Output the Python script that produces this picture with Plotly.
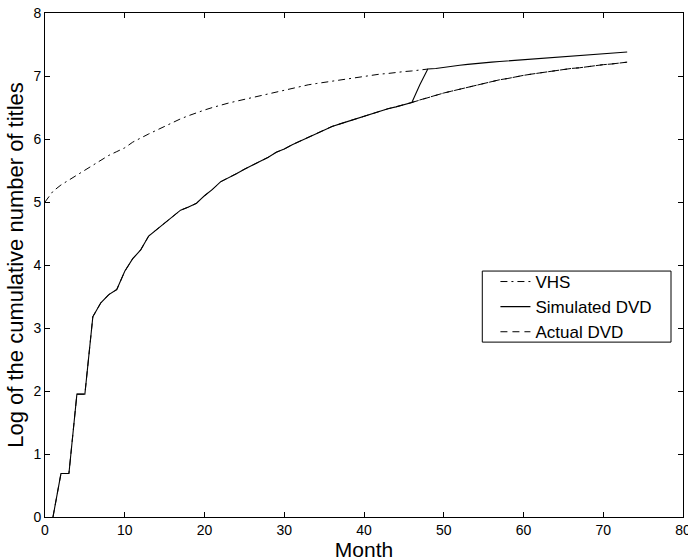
import plotly.graph_objects as go

# ---- data ----
vhs_months = list(range(0, 49))
vhs_values = [5.00, 5.17, 5.27, 5.35, 5.42, 5.50, 5.58, 5.66, 5.74, 5.80,
              5.86, 5.95, 6.02, 6.08, 6.14, 6.20, 6.27, 6.32, 6.37, 6.42,
              6.46, 6.50, 6.54, 6.57, 6.60, 6.63, 6.66, 6.69, 6.72, 6.75,
              6.77, 6.80, 6.83, 6.86, 6.88, 6.90, 6.92, 6.94, 6.96, 6.98,
              7.00, 7.01, 7.03, 7.04, 7.06, 7.07, 7.08, 7.10, 7.11]

dvd_common = [0.00, 0.69, 0.69, 1.95, 1.95, 3.18, 3.40, 3.53, 3.61, 3.90,
              4.10, 4.24, 4.46, 4.56, 4.66, 4.76, 4.87, 4.92, 4.98, 5.10,
              5.20, 5.32, 5.38, 5.45, 5.52, 5.58, 5.65, 5.71, 5.79, 5.84,
              5.91, 5.97, 6.03, 6.09, 6.14, 6.20, 6.24, 6.28, 6.33, 6.37,
              6.41, 6.45, 6.48, 6.51, 6.54, 6.58]   # months 1..46

sim_tail = [6.86, 7.11, 7.12, 7.14, 7.155, 7.17, 7.185, 7.20, 7.21, 7.22,
            7.23, 7.24, 7.25, 7.26, 7.27, 7.28, 7.29, 7.30, 7.31, 7.32,
            7.33, 7.34, 7.345, 7.35, 7.36, 7.37, 7.38]   # months 47..73

act_tail = [6.62, 6.66, 6.70, 6.73, 6.76, 6.79, 6.83, 6.86, 6.88, 6.91,
            6.94, 6.96, 6.99, 7.01, 7.03, 7.05, 7.07, 7.08, 7.10, 7.12,
            7.13, 7.15, 7.16, 7.18, 7.19, 7.21, 7.22]   # months 47..73

dvd_months = list(range(1, 74))
sim_values = dvd_common + sim_tail
act_values = dvd_common + act_tail

x_ticks = [0, 10, 20, 30, 40, 50, 60, 70, 80]
y_ticks = [0, 1, 2, 3, 4, 5, 6, 7, 8]

FONT = "Liberation Sans, Arial, sans-serif"
DASH = "7px,5px"
DASHDOT = "7px,4px,2px,4px"

fig = go.Figure()
# actual DVD, full series (under the simulated line where they coincide)
fig.add_trace(go.Scatter(x=dvd_months, y=act_values, mode="lines",
                         name="Actual DVD", showlegend=False,
                         line=dict(color="black", width=1, dash=DASH)))
fig.add_trace(go.Scatter(x=vhs_months, y=vhs_values, mode="lines", name="VHS",
                         line=dict(color="black", width=1, dash=DASHDOT)))
fig.add_trace(go.Scatter(x=dvd_months, y=sim_values, mode="lines", name="Simulated DVD",
                         line=dict(color="black", width=1.1)))
# visible part of actual DVD, on top, with the legend entry
fig.add_trace(go.Scatter(x=dvd_months[45:], y=act_values[45:], mode="lines",
                         name="Actual DVD",
                         line=dict(color="black", width=1, dash=DASH)))

axis_common = dict(showline=True, linecolor="black", linewidth=1, mirror="ticks",
                   ticks="inside", ticklen=5, tickcolor="black", showgrid=False,
                   zeroline=False, tickfont=dict(family=FONT, size=14, color="black"))

fig.update_xaxes(range=[0, 80], tickvals=x_ticks, ticktext=[str(v) for v in x_ticks],
                 title=dict(text="Month", font=dict(family=FONT, size=21, color="black"),
                            standoff=4),
                 **axis_common)
fig.update_yaxes(range=[0, 8], tickvals=y_ticks, ticktext=[str(v) for v in y_ticks],
                 title=dict(text="Log of the cumulative number of titles",
                            font=dict(family=FONT, size=22, color="black"), standoff=3),
                 **axis_common)

# legend frame
fig.add_shape(type="rect", xref="paper", yref="paper",
              x0=0.6854, x1=0.9812, y0=0.347, y1=0.488,
              line=dict(color="black", width=1), fillcolor="white", layer="below")

# figure slightly larger than the window so the last x label is cut by the window edge
fig.update_layout(
    width=700, height=566,
    margin=dict(l=45, r=17, t=13, b=49, autoexpand=False),
    plot_bgcolor="white", paper_bgcolor="white",
    font=dict(family=FONT, color="black"),
    legend=dict(x=0.706, y=0.502, xanchor="left", yanchor="top",
                bgcolor="rgba(0,0,0,0)", borderwidth=0,
                font=dict(family=FONT, size=17, color="black"),
                tracegroupgap=0, itemwidth=30),
)

fig.write_html("out.html", config={"displayModeBar": False},
               post_script="document.body.style.margin='0';"
                           "document.body.style.overflow='hidden';")
